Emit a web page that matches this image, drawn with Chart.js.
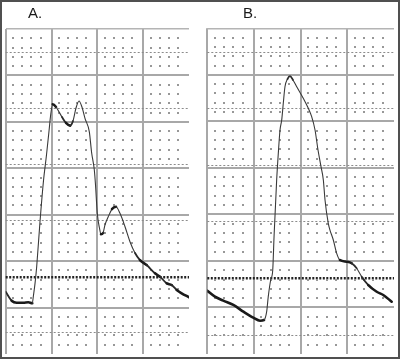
<!DOCTYPE html>
<html><head><meta charset="utf-8">
<script src="https://cdn.jsdelivr.net/npm/chart.js@4"></script>
<style>
html,body{margin:0;padding:0;background:#fff;}
#wrap{position:relative;width:400px;height:359px;overflow:hidden;background:#fff;}
canvas{position:absolute;top:0;}
#frame{position:absolute;left:0;top:0;width:400px;height:359px;box-sizing:border-box;border:2px solid #505050;pointer-events:none;}
.lbl{position:absolute;top:5px;font:15px "Liberation Sans",Arial,sans-serif;line-height:15px;color:#1a1a1a;}
</style></head><body>
<div id="wrap">
<canvas id="ca" width="200" height="359" style="left:0"></canvas>
<canvas id="cb" width="200" height="359" style="left:200px"></canvas>
<div class="lbl" style="left:28px">A.</div>
<div class="lbl" style="left:243px">B.</div>
<div id="frame"></div>
</div>
<script>
// Panel labels
const panelLabels = ["A.", "B."];
// Time in small-grid units (4 large columns x 5 units)
const timeA = [0, 0.65, 1.2, 1.92, 2.47, 2.9, 3.01, 3.2, 3.38, 3.74, 4.12, 4.45, 4.76, 4.89, 5.13, 5.49, 6.14, 6.58, 7.02, 7.34, 7.67, 8.0, 8.32, 8.65, 9.12, 9.38, 9.67, 9.8, 9.99, 10.23, 10.4, 10.62, 10.83, 11.19, 11.6, 12.03, 12.47, 13.02, 13.56, 14.11, 14.65, 15.38, 16.29, 16.84, 17.57, 18.11, 18.66, 19.2, 20.0];
// Pressure trace in small-grid units (7 large rows x 5 units)
const pressureA = [6.71, 5.74, 5.52, 5.52, 5.57, 5.46, 6.17, 7.61, 9.4, 14.22, 18.63, 21.43, 24.34, 25.6, 26.89, 26.6, 25.52, 24.88, 24.59, 25.09, 26.49, 27.24, 26.6, 25.38, 23.94, 21.65, 19.82, 18.2, 15.18, 13.57, 12.89, 13.03, 13.89, 14.79, 15.61, 15.86, 15.15, 13.71, 12.09, 10.88, 10.12, 9.58, 8.69, 8.32, 7.61, 7.43, 6.89, 6.54, 6.11];
const timeB = [0, 0.82, 1.71, 2.79, 3.86, 4.93, 5.65, 6.07, 6.36, 6.53, 6.79, 7.01, 7.15, 7.43, 7.63, 7.79, 7.97, 8.14, 8.32, 8.59, 8.86, 9.18, 9.58, 10.28, 10.82, 11.18, 11.54, 11.86, 12.18, 12.43, 12.61, 12.96, 13.14, 13.5, 13.86, 14.21, 14.93, 15.47, 16.0, 16.54, 17.25, 18.15, 18.85, 19.75];
const pressureB = [6.8, 6.16, 5.73, 5.27, 4.55, 3.9, 3.58, 3.65, 4.55, 6.16, 7.95, 9.03, 12.6, 18.7, 21.92, 24.07, 25.14, 26.94, 28.72, 29.55, 29.87, 29.44, 28.72, 27.48, 26.4, 25.5, 24.07, 21.92, 20.13, 18.7, 16.55, 14.04, 13.32, 12.25, 10.82, 10.1, 9.92, 9.75, 9.21, 8.31, 7.41, 6.69, 6.34, 5.62];
// Dotted reference-scale lines (pressure scale, 0 = heavy baseline)
const pressureTicks = [-20, 0, 20, 40, 60, 80];

const paperDots = {
  id: 'paperDots',
  beforeDatasetsDraw(chart) {
    const {ctx, scales: {x, y}} = chart;
    ctx.save();
    ctx.fillStyle = '#989898';
    for (let cx = 0; cx < 20; cx += 5) {
      for (let i = 0; i < 4; i++) {
        const px = Math.round(x.getPixelForValue(cx + 0.8 + i));
        for (let cy = 0; cy < 35; cy += 5) {
          for (let j = 1; j <= 4; j++) {
            const py = Math.round(y.getPixelForValue(cy + j));
            ctx.fillRect(px - 1, py - 1, 2, 2);
          }
        }
      }
    }
    ctx.restore();
  }
};

function slope(c) {
  const dx = Math.abs(c.p1.x - c.p0.x) || 0.001;
  return Math.abs(c.p1.y - c.p0.y) / dx;
}

function makeChart(id, xs, ys, pad, y2min, y2max) {
  new Chart(document.getElementById(id), {
    type: 'line',
    data: {
      datasets: [{
        data: xs.map((x, i) => ({x, y: ys[i]})),
        xAxisID: 'x', yAxisID: 'y',
        borderColor: '#1c1c1c',
        borderWidth: 2,
        pointRadius: 0,
        cubicInterpolationMode: 'monotone',
        borderCapStyle: 'round',
        borderJoinStyle: 'round',
        segment: {
          borderWidth: c => { const s = slope(c); return s < 0.9 ? 2.6 : (s < 1.6 ? 1.8 : 1.1); },
          borderColor: c => { const s = slope(c); return s < 0.9 ? '#1a1a1a' : (s < 1.6 ? '#2a2a2a' : '#3a3a3a'); }
        }
      }]
    },
    options: {
      responsive: false, animation: false, devicePixelRatio: 1,
      layout: {padding: pad},
      plugins: {legend: {display: false}, tooltip: {enabled: false}},
      scales: {
        x: {
          type: 'linear', min: 0, max: 20,
          ticks: {display: false, stepSize: 5},
          grid: {drawTicks: false, lineWidth: 2,
            color: c => (c.tick && c.tick.value === 20) ? 'rgba(0,0,0,0)' : '#a8a8a8'},
          border: {display: false}
        },
        y: {
          type: 'linear', min: 0, max: 35,
          ticks: {display: false, stepSize: 5},
          grid: {drawTicks: false,
            lineWidth: c => (c.tick && c.tick.value === 35) ? 1.5 : 2,
            color: c => (c.tick && c.tick.value === 0) ? 'rgba(0,0,0,0)' : ((c.tick && c.tick.value === 35) ? '#b4b4b4' : '#a8a8a8')},
          border: {display: false}
        },
        y2: {
          type: 'linear', position: 'right', min: y2min, max: y2max,
          afterBuildTicks: ax => { ax.ticks = pressureTicks.map(v => ({value: v})); },
          ticks: {display: false},
          grid: {drawTicks: false,
            color: c => (c.tick && c.tick.value === 0) ? '#222' : '#8c8c8c',
            lineWidth: c => (c.tick && c.tick.value === 0) ? 2.5 : 1},
          border: {display: false,
            dash: c => (c.tick && c.tick.value === 0) ? [2, 1.5] : [2, 2]}
        }
      }
    },
    plugins: [paperDots]
  });
}

makeChart('ca', timeA, pressureA, {left: 5.7, top: 29, right: 11, bottom: 5}, -27.5, 88.3);
makeChart('cb', timeB, pressureB, {left: 7.3, top: 28.3, right: 6, bottom: 5}, -26.7, 88.5);
</script>
</body></html>
